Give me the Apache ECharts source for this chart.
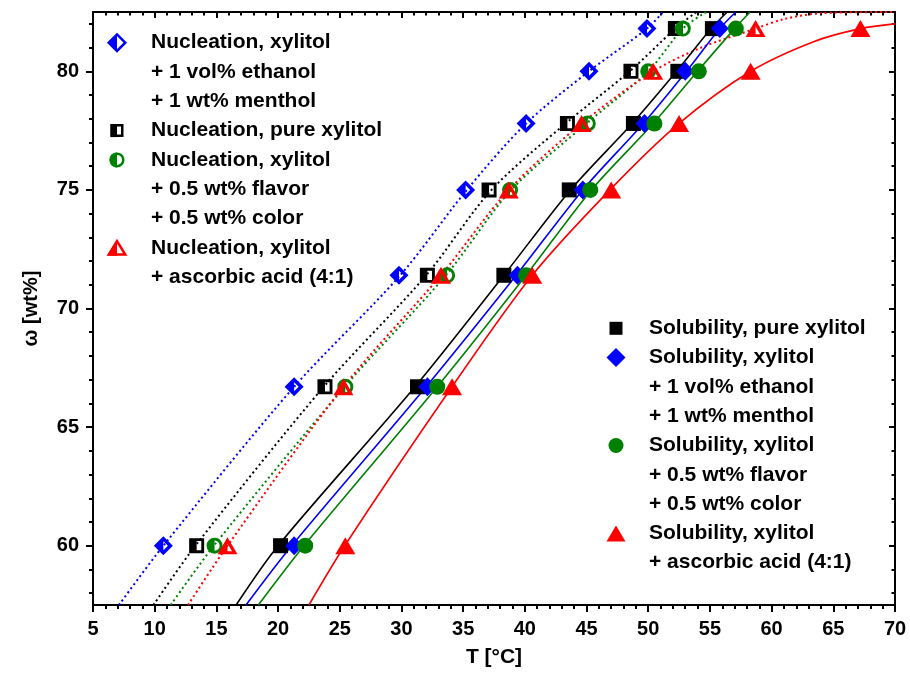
<!DOCTYPE html>
<html>
<head>
<meta charset="utf-8">
<script src="https://cdn.jsdelivr.net/npm/echarts@6/dist/echarts.min.js"></script>
<style>
  html, body { margin: 0; background: #fff; }
  #chart { width: 910px; height: 683px; }
</style>
</head>
<body>
<div id="chart"></div>
<script>
// mass fraction rows, wt%
const omega = [60, 66.7, 71.4, 75, 77.8, 80, 81.8];

// solubility temperatures, °C
const solPure = [20.2, 31.3, 38.3, 43.6, 48.8, 52.4, 55.2];
const solEth  = [21.3, 32.1, 39.4, 44.7, 49.7, 53.0, 55.8];
const solFlav = [22.2, 32.9, 40.1, 45.3, 50.5, 54.1, 57.1];
const solAsc  = [25.45, 34.1, 40.6, 47.0, 52.5, 58.3, 67.2];

// nucleation temperatures, °C
const nucEth  = [10.7, 21.3, 29.8, 35.2, 40.1, 45.2, 49.9];
const nucPure = [13.4, 23.8, 32.1, 37.1, 43.45, 48.6, 52.2];
const nucFlav = [14.85, 25.45, 33.7, 38.8, 45.1, 50.0, 52.8];
const nucAsc  = [15.9, 25.3, 33.2, 38.7, 44.6, 50.4, 58.7];

// fitted curves as [T, omega]
const fitSolPure = [[16.6, 57.5], [20.0, 60], [31.1, 66.7], [38.3, 71.4], [43.7, 75], [48.7, 77.8], [52.3, 80], [55.1, 81.8], [56.4, 82.5]];
const fitSolEth  = [[17.4, 57.5], [21.1, 60], [32.0, 66.7], [39.3, 71.4], [44.7, 75], [49.6, 77.8], [53.1, 80], [55.8, 81.8], [57.1, 82.5]];
const fitSolFlav = [[18.4, 57.5], [22.1, 60], [32.9, 66.7], [40.1, 71.4], [45.4, 75], [50.4, 77.8], [54.0, 80], [57.0, 81.8], [58.25, 82.5]];
const fitSolAsc  = [[22.5, 57.5], [25.4, 60], [34.1, 66.7], [40.6, 71.4], [46.9, 75], [52.5, 77.8], [58.3, 80], [63.4, 81.25], [67.2, 81.8], [70, 82.0]];
const fitNucEth  = [[7.1, 57.5], [10.7, 60], [21.3, 66.7], [29.9, 71.4], [35.3, 75], [40.1, 77.8], [45.2, 80], [49.9, 81.8], [51.2, 82.5]];
const fitNucPure = [[9.9, 57.5], [13.3, 60], [23.7, 66.7], [32.0, 71.4], [37.3, 75], [43.3, 77.8], [48.5, 80], [52.2, 81.8], [53.9, 82.5]];
const fitNucFlav = [[11.3, 57.5], [14.8, 60], [25.4, 66.7], [33.6, 71.4], [38.9, 75], [45.0, 77.8], [50.0, 80], [52.8, 81.8], [54.7, 82.5]];
const fitNucAsc  = [[12.7, 57.5], [15.9, 60], [25.3, 66.7], [33.2, 71.4], [38.7, 75], [44.6, 77.8], [50.4, 80], [54.3, 81.0], [58.7, 81.8], [61, 82.2], [64, 82.45], [70, 82.5]];

// axis ticks
const yMajor = [60, 65, 70, 75, 80];
const yMinor = [58, 59, 61, 62, 63, 64, 66, 67, 68, 69, 71, 72, 73, 74, 76, 77, 78, 79, 81, 82];

const BLACK = '#000000', BLUE = '#0000ff', GREEN = '#008000', RED = '#ff0000';
const FONT = '"Liberation Sans", Arial, sans-serif';

// half filled outlines for the nucleation markers (right half is a hole)
const HALF_SQUARE = 'path://M0 0L10 0L10 10L0 10Z M5 1.9L5 8.1L8.1 8.1L8.1 1.9Z';
const HALF_DIAMOND = 'path://M5 0L10 5L5 10L0 5Z M5 2.6L5 7.4L7.4 5Z';
const HALF_CIRCLE = 'path://M5 0A5 5 0 1 1 5 10A5 5 0 1 1 5 0Z M5 1.8L5 8.2A3.2 3.2 0 0 0 5 1.8Z';
const HALF_TRI = 'path://M5 0L10 10L0 10Z M5 3.8L5 8.3L7.25 8.3Z';

const pts = xs => xs.map((t, i) => [t, omega[i]]);

function fit(data, color, dotted) {
  return {
    type: 'line', data: data, showSymbol: false, symbol: 'none', smooth: 0.3,
    silent: true, z: 2,
    lineStyle: dotted ? { color: color, width: 2, type: [2, 3] } : { color: color, width: 1.6 }
  };
}

function marks(name, xs, symbol, size, color) {
  return {
    name: name, type: 'scatter', data: pts(xs), symbol: symbol, symbolSize: size,
    itemStyle: { color: color, opacity: 1 }, silent: true, z: 3
  };
}

// legend icons drawn with graphic shapes
function icon(kind, color, half, cx, cy, w, h) {
  const els = [];
  const lw = 2.5;
  const outline = half ? { fill: '#fff', stroke: color, lineWidth: lw } : { fill: color };
  const a = half ? lw / 2 : 0;
  if (kind === 'square') {
    els.push({ type: 'rect', shape: { x: cx - w / 2 + a, y: cy - h / 2 + a, width: w - 2 * a, height: h - 2 * a }, style: outline });
    if (half) els.push({ type: 'rect', shape: { x: cx - w / 2, y: cy - h / 2, width: w / 2, height: h }, style: { fill: color } });
  } else if (kind === 'diamond') {
    els.push({ type: 'polygon', shape: { points: [[cx, cy - h / 2 + a], [cx + w / 2 - a, cy], [cx, cy + h / 2 - a], [cx - w / 2 + a, cy]] }, style: outline });
    if (half) els.push({ type: 'polygon', shape: { points: [[cx, cy - h / 2], [cx, cy + h / 2], [cx - w / 2, cy]] }, style: { fill: color } });
  } else if (kind === 'circle') {
    els.push({ type: 'circle', shape: { cx: cx, cy: cy, r: w / 2 - a }, style: outline });
    if (half) els.push({ type: 'sector', shape: { cx: cx, cy: cy, r: w / 2, r0: 0, startAngle: Math.PI / 2, endAngle: Math.PI * 1.5 }, style: { fill: color } });
  } else {
    els.push({ type: 'polygon', shape: { points: [[cx, cy - h / 2 + a], [cx + w / 2 - a, cy + h / 2 - a], [cx - w / 2 + a, cy + h / 2 - a]] }, style: outline });
    if (half) els.push({ type: 'polygon', shape: { points: [[cx, cy - h / 2], [cx, cy + h / 2], [cx - w / 2, cy + h / 2]] }, style: { fill: color } });
  }
  return els;
}

function legendBlock(iconX, textX, y0, entries) {
  const step = 29.3;
  let els = [];
  let y = y0;
  entries.forEach(e => {
    els = els.concat(icon(e.kind, e.color, e.half, iconX, y, e.w, e.h));
    e.lines.forEach(line => {
      els.push({
        type: 'text', x: textX, y: y,
        style: { text: line, font: 'bold 21px ' + FONT, fill: '#000', verticalAlign: 'middle', textVerticalAlign: 'middle' }
      });
      y += step;
    });
  });
  return els;
}

const tickLine = { color: '#000', width: 2 };
const ySide = (pos, inside, values, len, line) => ({
  type: 'value', min: 57.5, max: 82.5, position: pos,
  axisLine: { show: line, lineStyle: { color: '#000', width: 2 } },
  axisTick: { show: true, inside: inside, customValues: values, length: len, lineStyle: tickLine },
  axisLabel: { show: false },
  splitLine: { show: false }
});

const option = {
  animation: false,
  grid: { left: 93, right: 15, top: 12, bottom: 78 },
  xAxis: [
    {
      type: 'value', min: 5, max: 70, interval: 5, position: 'bottom',
      name: 'T [°C]', nameLocation: 'middle', nameGap: 42,
      nameTextStyle: { fontFamily: FONT, fontWeight: 'bold', fontSize: 21, color: '#000' },
      axisLine: { lineStyle: { color: '#000', width: 2 } },
      axisTick: { length: 7, lineStyle: tickLine },
      minorTick: { show: true, splitNumber: 5, length: 4, lineStyle: tickLine },
      axisLabel: { fontFamily: FONT, fontWeight: 'bold', fontSize: 20, color: '#000', margin: 14 },
      splitLine: { show: false }
    },
    {
      type: 'value', min: 5, max: 70, interval: 5, position: 'top',
      axisLine: { lineStyle: { color: '#000', width: 2 } },
      axisTick: { inside: true, length: 6, lineStyle: tickLine },
      minorTick: { show: true, splitNumber: 5, length: 3.5, lineStyle: tickLine },
      axisLabel: { show: false },
      splitLine: { show: false }
    }
  ],
  yAxis: [
    {
      type: 'value', min: 57.5, max: 82.5, position: 'left',
      name: 'ω [wt%]', nameLocation: 'middle', nameGap: 52, nameRotate: 90,
      nameTextStyle: { fontFamily: FONT, fontWeight: 'bold', fontSize: 20, color: '#000' },
      axisLine: { show: true, lineStyle: { color: '#000', width: 2 } },
      axisTick: { show: true, customValues: yMajor, length: 7, lineStyle: tickLine },
      axisLabel: { customValues: yMajor, fontFamily: FONT, fontWeight: 'bold', fontSize: 20, color: '#000', margin: 14 },
      splitLine: { show: false }
    },
    ySide('left', false, yMinor, 4, false),
    ySide('right', true, yMajor, 6, true),
    ySide('right', true, yMinor, 3.5, false)
  ],
  series: [
    fit(fitNucEth, BLUE, true),
    fit(fitNucPure, BLACK, true),
    fit(fitNucFlav, GREEN, true),
    fit(fitNucAsc, RED, true),
    fit(fitSolPure, BLACK, false),
    fit(fitSolEth, BLUE, false),
    fit(fitSolFlav, GREEN, false),
    fit(fitSolAsc, RED, false),
    marks('Nucleation, xylitol + 1 vol% ethanol + 1 wt% menthol', nucEth, HALF_DIAMOND, 19, BLUE),
    marks('Nucleation, pure xylitol', nucPure, HALF_SQUARE, 15, BLACK),
    marks('Nucleation, xylitol + 0.5 wt% flavor + 0.5 wt% color', nucFlav, HALF_CIRCLE, 16, GREEN),
    marks('Nucleation, xylitol + ascorbic acid (4:1)', nucAsc, HALF_TRI, [20, 17], RED),
    marks('Solubility, pure xylitol', solPure, 'rect', 15, BLACK),
    marks('Solubility, xylitol + 1 vol% ethanol + 1 wt% menthol', solEth, 'diamond', [18, 19], BLUE),
    marks('Solubility, xylitol + 0.5 wt% flavor + 0.5 wt% color', solFlav, 'circle', 16, GREEN),
    marks('Solubility, xylitol + ascorbic acid (4:1)', solAsc, 'triangle', [20, 17], RED)
  ],
  graphic: legendBlock(117, 151, 42.7, [
    { kind: 'diamond', half: true, color: BLUE, w: 19, h: 19, lines: ['Nucleation, xylitol', '+ 1 vol% ethanol', '+ 1 wt% menthol'] },
    { kind: 'square', half: true, color: BLACK, w: 13, h: 13, lines: ['Nucleation, pure xylitol'] },
    { kind: 'circle', half: true, color: GREEN, w: 15, h: 15, lines: ['Nucleation, xylitol', '+ 0.5 wt% flavor', '+ 0.5 wt% color'] },
    { kind: 'triangle', half: true, color: RED, w: 19, h: 16, lines: ['Nucleation, xylitol', '+ ascorbic acid (4:1)'] }
  ]).concat(legendBlock(616, 649, 328.3, [
    { kind: 'square', half: false, color: BLACK, w: 13, h: 13, lines: ['Solubility, pure xylitol'] },
    { kind: 'diamond', half: false, color: BLUE, w: 19, h: 19, lines: ['Solubility, xylitol', '+ 1 vol% ethanol', '+ 1 wt% menthol'] },
    { kind: 'circle', half: false, color: GREEN, w: 15, h: 15, lines: ['Solubility, xylitol', '+ 0.5 wt% flavor', '+ 0.5 wt% color'] },
    { kind: 'triangle', half: false, color: RED, w: 19, h: 16, lines: ['Solubility, xylitol', '+ ascorbic acid (4:1)'] }
  ]))
};

const chart = echarts.init(document.getElementById('chart'));
chart.setOption(option);
</script>
</body>
</html>
